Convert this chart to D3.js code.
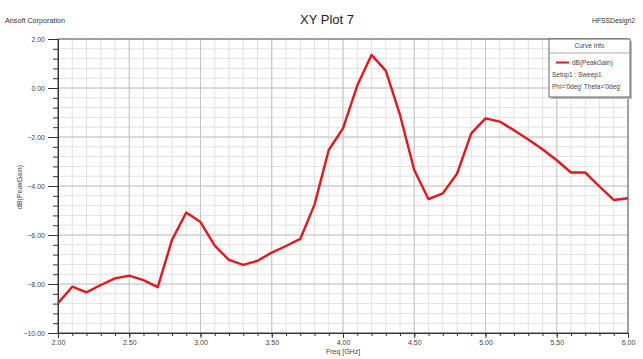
<!DOCTYPE html>
<html>
<head>
<meta charset="utf-8">
<script src="https://cdn.jsdelivr.net/npm/d3@7"></script>
<style>
  html, body { margin: 0; padding: 0; background: #fff; }
  svg { display: block; font-family: "Liberation Sans", Arial, sans-serif; }
</style>
</head>
<body>
<svg id="chart" width="643" height="359"></svg>
<script>
// ---- data ----
const freqs = [2.0,2.1,2.2,2.3,2.4,2.5,2.6,2.7,2.8,2.9,3.0,3.1,3.2,3.3,3.4,3.5,3.6,3.7,3.8,3.9,
               4.0,4.1,4.2,4.3,4.4,4.5,4.6,4.7,4.8,4.9,5.0,5.1,5.2,5.3,5.4,5.5,5.6,5.7,5.8,5.9,6.0];
const peakGain = [-8.78,-8.11,-8.34,-8.04,-7.77,-7.66,-7.84,-8.13,-6.2,-5.08,-5.47,-6.43,-7.02,-7.22,-7.05,-6.72,-6.45,-6.16,-4.76,-2.53,
                  -1.65,0.1,1.35,0.71,-1.1,-3.35,-4.54,-4.3,-3.5,-1.85,-1.24,-1.37,-1.72,-2.1,-2.5,-2.95,-3.45,-3.45,-4.02,-4.57,-4.5];
const xTicks = [2.0,2.5,3.0,3.5,4.0,4.5,5.0,5.5,6.0];
const yTicks = [2,0,-2,-4,-6,-8,-10];
const seriesName = "dB(PeakGain)";
const legendLines = ["Setup1 : Sweep1", "Phi='0deg' Theta='0deg'"];

// ---- layout ----
const svg = d3.select("#chart");
const L = 58, R = 628, T = 39, B = 333;
const x = d3.scaleLinear().domain([2, 6]).range([L, R]);
const y = d3.scaleLinear().domain([-10, 2]).range([B, T]);

// header texts
svg.append("text").attr("x", 5).attr("y", 23).attr("font-size", 8)
  .attr("textLength", 60).attr("lengthAdjust", "spacingAndGlyphs").attr("fill", "#333").text("Ansoft Corporation");
svg.append("text").attr("x", 327).attr("y", 24).attr("font-size", 13).attr("text-anchor", "middle")
  .attr("fill", "#222").text("XY Plot 7");
svg.append("text").attr("x", 592).attr("y", 23).attr("font-size", 8)
  .attr("textLength", 43).attr("lengthAdjust", "spacingAndGlyphs").attr("fill", "#333").text("HFSSDesign2");

// grid
const g = svg.append("g");
const minorX = d3.range(20, 61).map(d => d / 10);
const minorYv = d3.range(0, 31).map(i => -10 + i * 0.4);
g.selectAll(".mx").data(minorX).join("line")
  .attr("x1", d => x(d)).attr("x2", d => x(d)).attr("y1", T).attr("y2", B)
  .attr("stroke", "#e2e2e2").attr("stroke-width", 1);
g.selectAll(".my").data(minorYv).join("line")
  .attr("x1", L).attr("x2", R).attr("y1", d => y(d)).attr("y2", d => y(d))
  .attr("stroke", "#e2e2e2").attr("stroke-width", 1);
g.selectAll(".Mx").data(xTicks).join("line")
  .attr("x1", d => x(d)).attr("x2", d => x(d)).attr("y1", T).attr("y2", B)
  .attr("stroke", "#c4c4c4").attr("stroke-width", 1);
g.selectAll(".My").data(yTicks).join("line")
  .attr("x1", L).attr("x2", R).attr("y1", d => y(d)).attr("y2", d => y(d))
  .attr("stroke", "#c4c4c4").attr("stroke-width", 1);

// plot border
svg.append("rect").attr("x", L).attr("y", T).attr("width", R - L).attr("height", B - T)
  .attr("fill", "none").attr("stroke", "#666").attr("stroke-width", 1);

// y axis
const yAxis = d3.axisLeft(y).tickValues(yTicks).tickFormat(d3.format(".2f")).tickSize(10).tickPadding(3);
const ya = svg.append("g").attr("transform", `translate(${L},0)`).call(yAxis);
ya.select(".domain").attr("stroke", "#333");
ya.selectAll(".tick line").attr("stroke", "#333");
ya.selectAll("text").attr("font-size", 7).attr("fill", "#444").attr("font-family", "Liberation Sans, Arial, sans-serif");
const yMinor = d3.axisLeft(y).tickValues(minorYv).tickSize(5).tickFormat("");
const ym = svg.append("g").attr("transform", `translate(${L},0)`).call(yMinor);
ym.select(".domain").remove();
ym.selectAll(".tick line").attr("stroke", "#333");

// x axis
const xAxis = d3.axisBottom(x).tickValues(xTicks).tickFormat(d3.format(".2f")).tickSize(5).tickPadding(2);
const xa = svg.append("g").attr("transform", `translate(0,${B})`).call(xAxis);
xa.select(".domain").attr("stroke", "#333");
xa.selectAll(".tick line").attr("stroke", "#333");
xa.selectAll("text").attr("font-size", 7).attr("fill", "#444").attr("font-family", "Liberation Sans, Arial, sans-serif");
const xMinor = d3.axisBottom(x).tickValues(minorX).tickSize(3).tickFormat("");
const xm = svg.append("g").attr("transform", `translate(0,${B})`).call(xMinor);
xm.select(".domain").remove();
xm.selectAll(".tick line").attr("stroke", "#333");

// axis titles
svg.append("text").attr("x", 343).attr("y", 354).attr("font-size", 7).attr("text-anchor", "middle")
  .attr("fill", "#444").text("Freq [GHz]");
svg.append("text").attr("transform", "translate(22,187) rotate(-90)").attr("font-size", 7)
  .attr("text-anchor", "middle").attr("fill", "#444").text(seriesName);

// series line
const line = d3.line().x((d, i) => x(freqs[i])).y(d => y(d));
svg.append("path").datum(peakGain).attr("d", line).attr("fill", "none")
  .attr("stroke", "#e8161b").attr("stroke-width", 2.4).attr("stroke-linejoin", "round");

// legend
const lg = svg.append("g");
lg.append("rect").attr("x", 551).attr("y", 41).attr("width", 81).attr("height", 58).attr("fill", "#bbb");
lg.append("rect").attr("x", 549).attr("y", 39).attr("width", 81).attr("height", 58)
  .attr("fill", "#fff").attr("stroke", "#666").attr("stroke-width", 1);
lg.append("text").attr("x", 589.5).attr("y", 48).attr("font-size", 6.5).attr("text-anchor", "middle")
  .attr("fill", "#444").text("Curve Info");
lg.append("line").attr("x1", 549).attr("x2", 630).attr("y1", 53).attr("y2", 53).attr("stroke", "#aaa");
lg.append("line").attr("x1", 556).attr("x2", 569).attr("y1", 62.5).attr("y2", 62.5)
  .attr("stroke", "#e8161b").attr("stroke-width", 2);
lg.append("text").attr("x", 572).attr("y", 65).attr("font-size", 6.5).attr("fill", "#444").text(seriesName);
lg.selectAll(".ll").data(legendLines).join("text")
  .attr("x", 552).attr("y", (d, i) => 77 + i * 12).attr("font-size", 6.5).attr("fill", "#444").text(d => d);
</script>
</body>
</html>
